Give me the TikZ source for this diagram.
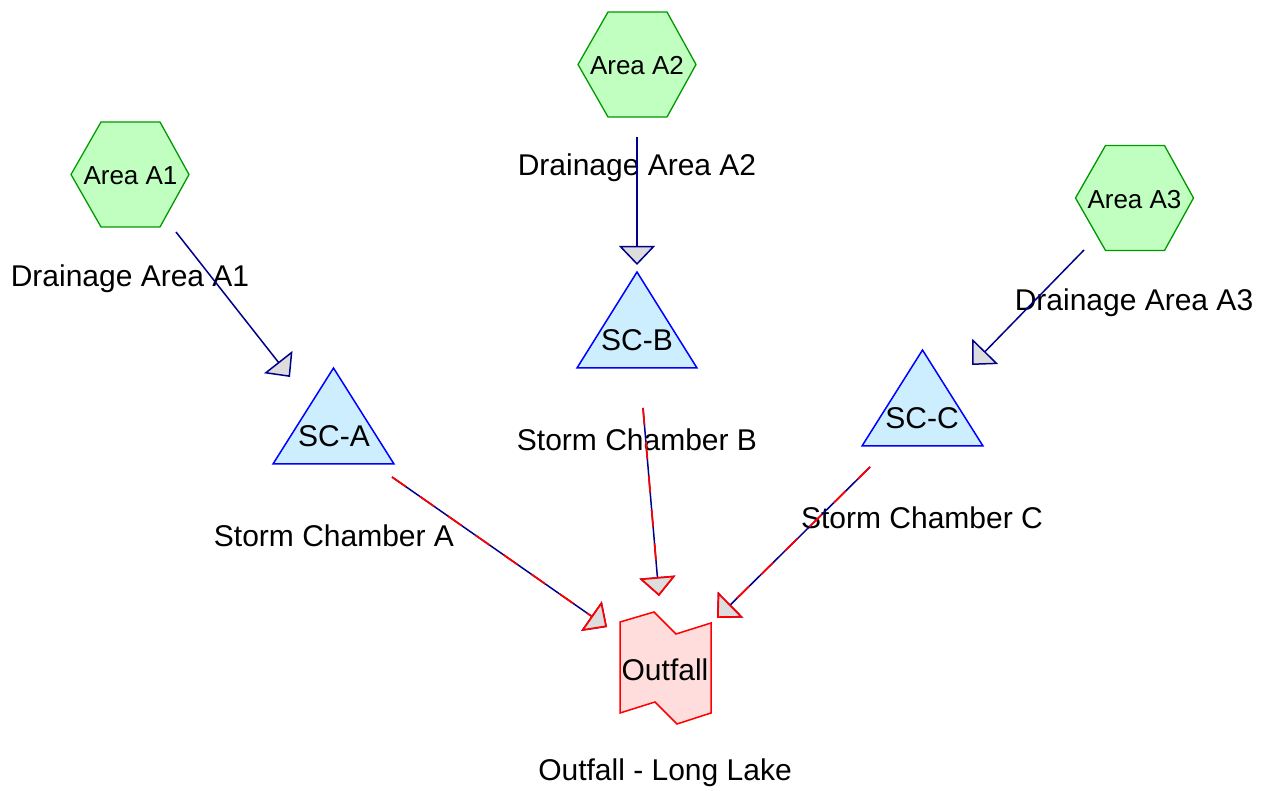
\documentclass[tikz,border=0pt]{standalone}
\usepackage{fontspec}
\setmainfont{Liberation Sans}
\usetikzlibrary{arrows.meta}
\definecolor{hexfill}{RGB}{192,255,192}
\definecolor{hexdraw}{RGB}{0,153,0}
\definecolor{trifill}{RGB}{204,238,255}
\definecolor{tridraw}{RGB}{0,0,255}
\definecolor{outfill}{RGB}{255,221,221}
\definecolor{edgenavy}{RGB}{0,0,139}
\definecolor{tipfill}{RGB}{221,221,221}
\begin{document}
\begin{tikzpicture}[x=1pt,y=-1pt,
  hexshape/.style={draw=hexdraw,fill=hexfill,line width=1.3pt},
  trishape/.style={draw=tridraw,fill=trifill,line width=1.5pt},
  outshape/.style={draw=red,fill=outfill,line width=1.5pt},
  hextext/.style={font=\fontsize{26}{30}\selectfont,inner sep=0pt},
  nodetext/.style={font=\fontsize{30}{34}\selectfont,inner sep=0pt,anchor=base},
  labeltext/.style={font=\fontsize{30}{34}\selectfont,inner sep=0pt,anchor=base},
  flowtip/.style={-{Triangle[length=19pt,width=36pt,fill=tipfill]}},
  flow/.style={draw=edgenavy,line width=1.5pt,flowtip},
  flowred/.style={draw=red,line width=1.7pt,dash pattern=on 17pt off 17pt,flowtip},
]
\useasboundingbox (0,0) rectangle (1270,791);
\fill[white] (0,0) rectangle (1270,791);

% hexagons (drainage areas)
\draw[hexshape] (130,174.5) ++(-59,0) -- ++(30,-52.5) -- ++(59,0) -- ++(29,52.5) -- ++(-29,52.5) -- ++(-59,0) -- cycle;
\draw[hexshape] (637,64.5) ++(-59,0) -- ++(30,-52.5) -- ++(59,0) -- ++(29,52.5) -- ++(-29,52.5) -- ++(-59,0) -- cycle;
\draw[hexshape] (1134.5,198) ++(-59,0) -- ++(30,-52.5) -- ++(59,0) -- ++(29,52.5) -- ++(-29,52.5) -- ++(-59,0) -- cycle;
\node[hextext] (a1) at (130.5,175.5) {Area A1};
\node[hextext] (a2) at (637,66) {Area A2};
\node[hextext] (a3) at (1134.5,200) {Area A3};

% triangles (storm chambers)
\draw[trishape] (333.5,368) -- (394,464) -- (273,464) -- cycle;
\draw[trishape] (637,272) -- (697,368) -- (577,368) -- cycle;
\draw[trishape] (922.5,350) -- (983,446) -- (862,446) -- cycle;
\node[nodetext] (sca) at (334,447) {SC-A};
\node[nodetext] (scb) at (637,351) {SC-B};
\node[nodetext] (scc) at (922,429) {SC-C};

% outfall
\draw[outshape] (620,622) -- (654,612) -- (676,634) -- (711,623) -- (711,713) -- (677,724) -- (655,702) -- (620,713) -- cycle;
\node[nodetext] (out) at (665,680) {Outfall};

% labels
\node[labeltext] (la1) at (130,287) {Drainage Area A1};
\node[labeltext] (la2) at (637,176) {Drainage Area A2};
\node[labeltext] (la3) at (1134,311) {Drainage Area A3};
\node[labeltext] (lsa) at (334,547) {Storm Chamber A};
\node[labeltext] (lsb) at (637,451) {Storm Chamber B};
\node[labeltext] (lsc) at (922,529) {Storm Chamber C};
\node[labeltext] (lout) at (665,780) {Outfall - Long Lake};

% connector end points
\coordinate (s1) at (176,232);   \coordinate (t1) at (290,377);
\coordinate (s2) at (637,137);   \coordinate (t2) at (637,265);
\coordinate (s3) at (1084,250);  \coordinate (t3) at (972,365);
\coordinate (s4) at (392,477);   \coordinate (t4) at (607,627);
\coordinate (s5) at (643,408);   \coordinate (t5) at (659,596);
\coordinate (s6) at (870,467);   \coordinate (t6) at (717,618);

% connectors
\draw[flow] (s1) -- (t1);
\draw[flow] (s2) -- (t2);
\draw[flow] (s3) -- (t3);
\draw[flow] (s4) -- (t4);
\draw[flowred] (s4) -- (t4);
\draw[flow] (s5) -- (t5);
\draw[flowred] (s5) -- (t5);
\draw[flow] (s6) -- (t6);
\draw[flowred] (s6) -- (t6);
\end{tikzpicture}
\end{document}
